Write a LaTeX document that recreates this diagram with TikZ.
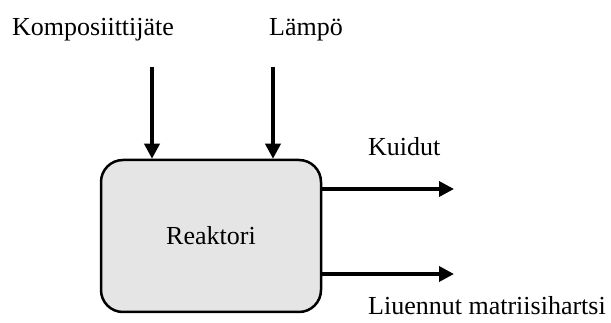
\documentclass[tikz,border=0pt]{standalone}
\usepackage{fontspec}
\setmainfont{Liberation Serif}
\usetikzlibrary{arrows.meta}
\definecolor{reaktorigray}{RGB}{229,229,229}

\begin{document}
\begin{tikzpicture}[x=1pt,y=-1pt,
	teksti/.style={anchor=base west,inner sep=0pt,font=\fontsize{26}{30}\selectfont},
	virta/.style={line width=3.5pt,-{Triangle[length=15pt,width=15pt]}}]
	\useasboundingbox (0,0) rectangle (611,323);
	\node[draw,line width=2.5pt,fill=reaktorigray,rounded corners=22pt,
		minimum width=220pt,minimum height=152pt,inner sep=0pt,
		font=\fontsize{26}{30}\selectfont] (reaktori) at (211,236) {Reaktori};
	\node[teksti] (jate) at (12,36) {Komposiittijäte};
	\node[teksti] (lampo) at (269,36) {Lämpö};
	\node[teksti] (kuidut) at (368,156) {Kuidut};
	\node[teksti] (hartsi) at (368,315) {Liuennut matriisihartsi};
	\coordinate (jatealku) at (152,67);
	\coordinate (lampoalku) at (273,67);
	\coordinate (kuituloppu) at (454,189);
	\coordinate (hartsiloppu) at (454,274);
	\draw[virta] (jatealku) -- (jatealku |- reaktori.north);
	\draw[virta] (lampoalku) -- (lampoalku |- reaktori.north);
	\draw[virta] (reaktori.east |- kuituloppu) -- (kuituloppu);
	\draw[virta] (reaktori.east |- hartsiloppu) -- (hartsiloppu);
\end{tikzpicture}
\end{document}
